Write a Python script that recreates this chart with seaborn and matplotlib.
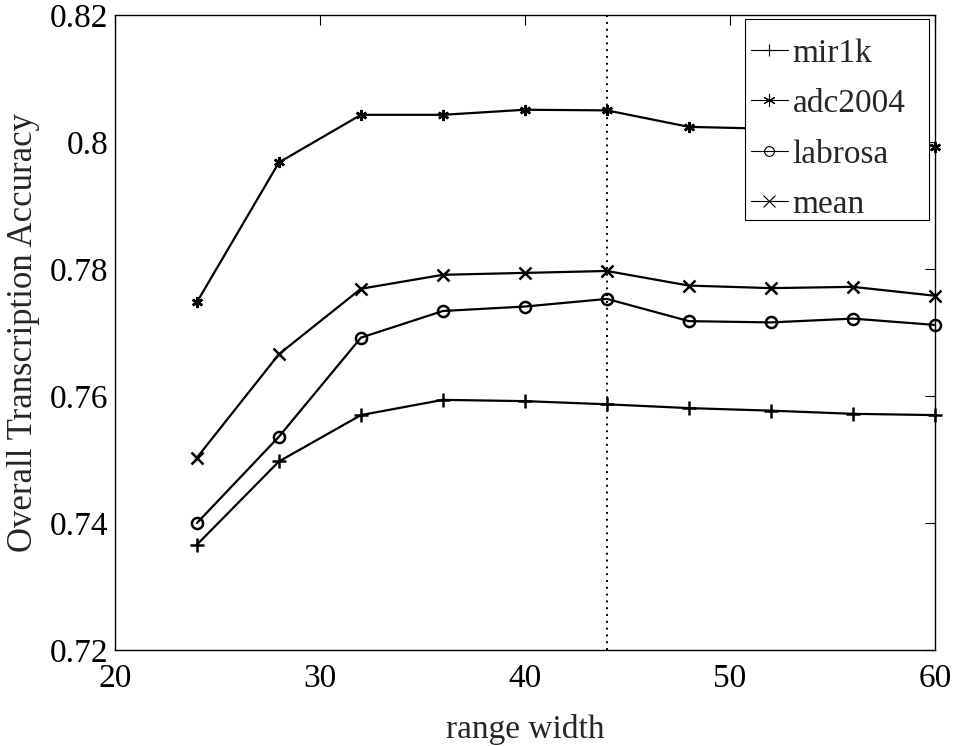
import matplotlib
matplotlib.use("Agg")
import matplotlib.pyplot as plt
import seaborn as sns
import pandas as pd
from matplotlib.lines import Line2D
from matplotlib.patches import Rectangle

# ---- data ----
range_width = [24, 28, 32, 36, 40, 44, 48, 52, 56, 60]
mir1k   = [0.7366, 0.7497, 0.7570, 0.7594, 0.7592, 0.7587, 0.7581, 0.7577, 0.7572, 0.7570]
adc2004 = [0.7748, 0.7968, 0.8043, 0.8043, 0.8051, 0.8050, 0.8024, 0.8021, 0.8019, 0.7993]
labrosa = [0.7400, 0.7536, 0.7692, 0.7734, 0.7741, 0.7753, 0.7718, 0.7716, 0.7722, 0.7712]
mean    = [0.7503, 0.7666, 0.7769, 0.7791, 0.7794, 0.7797, 0.7774, 0.7770, 0.7772, 0.7758]
series_names = ["mir1k", "adc2004", "labrosa", "mean"]
selected_width = 44
x_ticks = [20, 30, 40, 50, 60]
y_ticks = [0.72, 0.74, 0.76, 0.78, 0.80, 0.82]
y_tick_labels = ["0.72", "0.74", "0.76", "0.78", "0.8", "0.82"]

sns.set_theme(style="white")
plt.rcParams["font.family"] = ["Liberation Serif", "DejaVu Serif"]

rows = []
for name, vals in zip(series_names, [mir1k, adc2004, labrosa, mean]):
    for xv, yv in zip(range_width, vals):
        rows.append({"range width": xv, "acc": yv, "series": name})
df = pd.DataFrame(rows)

star = (6, 2, 0)
marker_map = {"mir1k": "+", "adc2004": star, "labrosa": "o", "mean": "x"}
msize = {"mir1k": 10, "adc2004": 8, "labrosa": 8, "mean": 9}

FS = 24
fig = plt.figure(figsize=(9.54, 7.46), dpi=100)
ax = fig.add_axes([0.1205, 0.1287, 0.8595, 0.851])

for name in series_names:
    sub = df[df["series"] == name]
    sns.lineplot(data=sub, x="range width", y="acc", ax=ax, color="black",
                 linewidth=1.6, marker=marker_map[name], markersize=msize[name],
                 markeredgewidth=1.8, markeredgecolor="black",
                 markerfacecolor="none" if name == "labrosa" else "black",
                 legend=False, clip_on=False, zorder=3)

ax.axvline(selected_width, color="black", linestyle=(0, (1, 2.5)), linewidth=1.4, zorder=2)

ax.set_xlim(20, 60)
ax.set_ylim(0.72, 0.82)
ax.set_xticks(x_ticks)
ax.set_xticklabels([str(t) for t in x_ticks])
ax.set_yticks(y_ticks)
ax.set_yticklabels(y_tick_labels)
ax.tick_params(direction="in", length=7, width=0.8, top=True, right=True,
               labelsize=FS, colors="black")
ax.tick_params(axis="y", pad=5)
ax.tick_params(axis="x", pad=10)
for s in ax.spines.values():
    s.set_color("black")
    s.set_linewidth(1.0)
ax.set_xlabel("range width", fontsize=FS, labelpad=14)
ax.set_ylabel("Overall Transcription Accuracy", fontsize=25, labelpad=7)

# legend frame (MATLAB style: more room on the right)
frame = Rectangle((0.7683, 0.6772), 0.2244, 0.3165, transform=ax.transAxes,
                  facecolor="white", edgecolor="black", linewidth=0.8,
                  zorder=4, clip_on=False)
ax.add_patch(frame)

handles = [Line2D([0], [0], color="black", linewidth=0.8,
                  marker=marker_map[n], markersize=9 if n != "labrosa" else 7,
                  markeredgewidth=0.8,
                  markerfacecolor="none" if n == "labrosa" else "black",
                  markeredgecolor="black")
           for n in series_names]
leg = ax.legend(handles, series_names, loc="upper left", fontsize=FS,
                frameon=False, handlelength=1.1, handletextpad=0.15,
                borderpad=0.0, labelspacing=0.6, borderaxespad=0.0,
                bbox_to_anchor=(0.7756, 0.9638))
leg.set_zorder(5)

fig.savefig("out.png", dpi=100, facecolor="white")
